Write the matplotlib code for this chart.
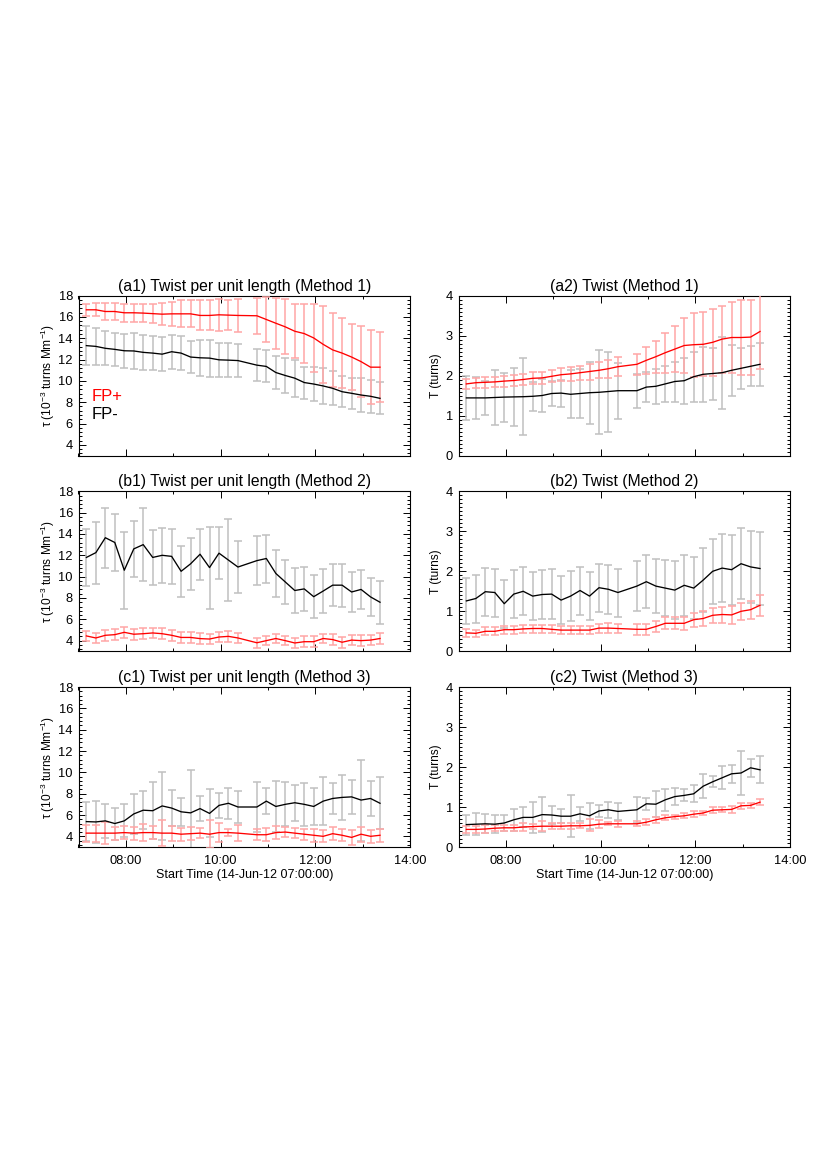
import matplotlib
matplotlib.use('Agg')
import matplotlib.pyplot as plt
from matplotlib.ticker import MultipleLocator, FixedLocator, FuncFormatter, NullFormatter

plt.rcParams['font.family'] = ['Liberation Sans', 'DejaVu Sans']
plt.rcParams['mathtext.default'] = 'regular'

# ---------------- data ----------------
times = ["07:10", "07:22", "07:34", "07:46", "07:58", "08:10", "08:22", "08:34",
         "08:46", "08:58", "09:10", "09:22", "09:34", "09:46", "09:58", "10:10",
         "10:22", "10:46", "10:58", "11:10", "11:22", "11:34", "11:46", "11:58",
         "12:10", "12:22", "12:34", "12:46", "12:58", "13:10", "13:22"]

# Method 1
tau1_pos = [16.66, 16.66, 16.5, 16.5, 16.38, 16.38, 16.35, 16.3, 16.25, 16.28, 16.28,
            16.28, 16.13, 16.13, 16.19, 16.16, 16.13, 16.1, 15.75, 15.4, 15.06, 14.65,
            14.43, 14.02, 13.42, 12.9, 12.6, 12.23, 11.8, 11.28, 11.28]
tau1_pos_err = [0.56, 0.62, 0.78, 0.8, 0.84, 0.86, 0.88, 0.92, 1.03, 1.1, 1.26, 1.26,
                1.41, 1.41, 1.5, 1.38, 1.57, 1.7, 2.1, 2.4, 2.57, 2.55, 2.8, 3.2,
                3.6, 3.45, 3.3, 3.1, 3.3, 3.45, 3.3]
tau1_neg = [13.3, 13.23, 13.05, 12.95, 12.82, 12.8, 12.67, 12.6, 12.5, 12.73, 12.6,
            12.23, 12.16, 12.13, 11.97, 11.94, 11.9, 11.47, 11.35, 10.78, 10.5, 10.25,
            9.84, 9.7, 9.52, 9.3, 8.98, 8.83, 8.67, 8.55, 8.36]
tau1_neg_err = [1.8, 1.7, 1.6, 1.57, 1.6, 1.7, 1.63, 1.6, 1.6, 1.6, 1.63, 1.5, 1.7,
                1.73, 1.6, 1.57, 1.54, 1.48, 1.5, 1.57, 1.66, 1.73, 1.5, 1.6, 1.7,
                1.6, 1.45, 1.48, 1.57, 1.54, 1.5]
T1_pos = [1.79, 1.82, 1.83, 1.84, 1.86, 1.875, 1.9, 1.93, 1.94, 1.98, 2.02, 2.04,
          2.07, 2.1, 2.13, 2.17, 2.22, 2.28, 2.38, 2.47, 2.57, 2.66, 2.75, 2.77,
          2.78, 2.83, 2.91, 2.95, 2.95, 2.96, 3.1]
T1_pos_err = [0.13, 0.13, 0.13, 0.13, 0.14, 0.14, 0.14, 0.15, 0.15, 0.15, 0.16, 0.17,
              0.18, 0.2, 0.2, 0.22, 0.24, 0.27, 0.33, 0.4, 0.5, 0.57, 0.69, 0.8,
              0.8, 0.84, 0.84, 0.88, 0.93, 0.94, 0.93]
T1_neg = [1.44, 1.44, 1.44, 1.45, 1.46, 1.465, 1.47, 1.48, 1.5, 1.55, 1.56, 1.53,
          1.55, 1.57, 1.58, 1.6, 1.62, 1.62, 1.71, 1.73, 1.79, 1.85, 1.87, 1.97,
          2.03, 2.05, 2.07, 2.13, 2.18, 2.23, 2.28]
T1_neg_err = [0.55, 0.52, 0.42, 0.68, 0.61, 0.72, 0.96, 0.37, 0.42, 0.32, 0.34, 0.6,
              0.62, 0.78, 1.05, 1.0, 0.7, 0.42, 0.38, 0.43, 0.45, 0.5, 0.58, 0.62,
              0.68, 0.65, 0.9, 0.63, 0.52, 0.5, 0.54]

# Method 2
tau2_pos = [4.44, 4.25, 4.5, 4.56, 4.78, 4.6, 4.65, 4.72, 4.65, 4.5, 4.3, 4.3, 4.19,
            4.15, 4.34, 4.4, 4.25, 3.8, 4.0, 4.2, 4.0, 3.78, 3.9, 3.9, 4.2, 4.1,
            3.85, 4.05, 4.0, 4.05, 4.2]
tau2_pos_err = [0.5, 0.45, 0.5, 0.5, 0.5, 0.5, 0.5, 0.5, 0.5, 0.5, 0.5, 0.5, 0.5, 0.5,
                0.5, 0.5, 0.5, 0.45, 0.45, 0.45, 0.45, 0.45, 0.5, 0.5, 0.45, 0.5,
                0.5, 0.45, 0.5, 0.5, 0.5]
tau2_neg = [11.8, 12.25, 13.65, 13.2, 10.6, 12.6, 13.0, 11.8, 12.0, 11.9, 10.5, 11.2,
            12.1, 10.85, 12.2, 11.55, 10.9, 11.5, 11.7, 10.3, 9.5, 8.7, 8.85, 8.12,
            8.65, 9.2, 9.2, 8.56, 8.8, 8.1, 7.6]
tau2_neg_err = [2.7, 2.9, 2.8, 2.7, 3.6, 2.65, 3.4, 2.6, 2.6, 2.55, 2.4, 2.45, 2.4,
                3.85, 2.45, 3.85, 2.4, 2.3, 2.25, 2.2, 2.1, 2.1, 2.05, 2.0, 2.05,
                1.95, 2.0, 1.9, 1.8, 1.8, 2.0]
T2_pos = [0.46, 0.45, 0.5, 0.5, 0.54, 0.54, 0.56, 0.57, 0.57, 0.55, 0.53, 0.53, 0.53,
          0.53, 0.58, 0.58, 0.57, 0.55, 0.55, 0.62, 0.7, 0.7, 0.7, 0.79, 0.82, 0.9,
          0.92, 0.91, 1.0, 1.04, 1.15]
T2_pos_err = [0.09, 0.09, 0.1, 0.1, 0.1, 0.1, 0.1, 0.1, 0.1, 0.1, 0.1, 0.1, 0.1, 0.1,
              0.11, 0.12, 0.12, 0.13, 0.13, 0.14, 0.15, 0.15, 0.16, 0.17, 0.18, 0.19,
              0.2, 0.22, 0.22, 0.23, 0.27]
T2_neg = [1.26, 1.32, 1.49, 1.47, 1.19, 1.43, 1.5, 1.38, 1.42, 1.43, 1.28, 1.38, 1.52,
          1.38, 1.59, 1.55, 1.47, 1.63, 1.74, 1.63, 1.58, 1.53, 1.65, 1.58, 1.78, 2.0,
          2.08, 2.04, 2.19, 2.11, 2.07]
T2_neg_err = [0.58, 0.6, 0.6, 0.6, 0.6, 0.6, 0.6, 0.6, 0.62, 0.62, 0.6, 0.62, 0.6,
              0.6, 0.6, 0.62, 0.6, 0.62, 0.66, 0.68, 0.7, 0.73, 0.76, 0.77, 0.8, 0.82,
              0.85, 0.87, 0.89, 0.91, 0.92]

# Method 3
tau3_pos = [4.3, 4.3, 4.3, 4.3, 4.35, 4.3, 4.35, 4.35, 4.3, 4.3, 4.2, 4.25, 4.3, 4.2,
            4.35, 4.35, 4.3, 4.15, 4.15, 4.35, 4.4, 4.3, 4.2, 4.1, 4.0, 4.25, 4.1,
            3.9, 4.2, 4.0, 4.1]
tau3_pos_err = [0.8, 0.8, 1.05, 0.6, 0.6, 0.6, 0.8, 0.6, 1.2, 0.7, 0.6, 0.6, 0.5, 1.3,
                0.9, 0.35, 0.75, 0.5, 0.6, 0.6, 0.5, 0.45, 0.5, 0.6, 0.55, 0.6, 0.55,
                0.7, 0.7, 0.6, 0.6]
tau3_neg = [5.38, 5.35, 5.45, 5.2, 5.45, 6.1, 6.45, 6.4, 6.85, 6.65, 6.3, 6.2, 6.6,
            6.15, 6.9, 7.1, 6.75, 6.75, 7.3, 6.8, 7.0, 7.15, 7.0, 6.8, 7.3, 7.55,
            7.65, 7.7, 7.4, 7.55, 7.1]
tau3_neg_err = [1.8, 2.0, 1.6, 1.5, 1.55, 1.9, 1.8, 2.65, 3.2, 1.65, 1.3, 4.0, 1.2,
                2.25, 1.2, 1.45, 1.5, 2.3, 1.2, 2.4, 2.05, 1.7, 2.0, 1.7, 2.25, 1.45,
                2.1, 1.6, 3.8, 1.65, 2.45]
T3_pos = [0.44, 0.44, 0.45, 0.47, 0.48, 0.48, 0.5, 0.51, 0.52, 0.52, 0.52, 0.53, 0.53,
          0.54, 0.57, 0.58, 0.58, 0.58, 0.62, 0.68, 0.73, 0.76, 0.78, 0.82, 0.85,
          0.92, 0.93, 0.94, 1.03, 1.04, 1.12]
T3_pos_err = [0.09, 0.09, 0.11, 0.07, 0.07, 0.07, 0.09, 0.07, 0.13, 0.08, 0.07, 0.07,
              0.06, 0.15, 0.1, 0.04, 0.08, 0.06, 0.07, 0.07, 0.06, 0.05, 0.06, 0.07,
              0.06, 0.07, 0.06, 0.08, 0.08, 0.07, 0.07]
T3_neg = [0.56, 0.57, 0.58, 0.57, 0.6, 0.68, 0.74, 0.74, 0.81, 0.8, 0.77, 0.77, 0.83,
          0.78, 0.9, 0.93, 0.89, 0.93, 1.08, 1.07, 1.18, 1.26, 1.29, 1.33, 1.52, 1.63,
          1.73, 1.83, 1.85, 1.98, 1.93]
T3_neg_err = [0.25, 0.28, 0.24, 0.22, 0.2, 0.28, 0.25, 0.38, 0.44, 0.22, 0.17, 0.53,
              0.17, 0.32, 0.15, 0.2, 0.21, 0.32, 0.15, 0.32, 0.28, 0.21, 0.15, 0.21,
              0.3, 0.14, 0.29, 0.22, 0.54, 0.22, 0.34]

titles = ["(a1) Twist per unit length (Method 1)", "(a2) Twist (Method 1)",
          "(b1) Twist per unit length (Method 2)", "(b2) Twist (Method 2)",
          "(c1) Twist per unit length (Method 3)", "(c2) Twist (Method 3)"]
tau_label = "\u03c4 (10$^{-3}$ turns Mm$^{-1}$)"
T_label = "T (turns)"
xlabel = "Start Time (14-Jun-12 07:00:00)"
legend_labels = ["FP+", "FP-"]

# ---------------- plotting ----------------
hours = [int(t[:2]) + int(t[3:]) / 60.0 for t in times]

W, H = 830, 1175
fig = plt.figure(figsize=(W / 100, H / 100), dpi=100)

col_x = [78.5, 458.5]
ax_w = 331.5
row_top = [295.5, 491.3, 687.0]
ax_h = 160.0

panel_data = [
    (tau1_pos, tau1_pos_err, tau1_neg, tau1_neg_err),
    (T1_pos, T1_pos_err, T1_neg, T1_neg_err),
    (tau2_pos, tau2_pos_err, tau2_neg, tau2_neg_err),
    (T2_pos, T2_pos_err, T2_neg, T2_neg_err),
    (tau3_pos, tau3_pos_err, tau3_neg, tau3_neg_err),
    (T3_pos, T3_pos_err, T3_neg, T3_neg_err),
]

pink = '#ffa6a6'
gray = '#c0c0c0'

axes = []
for i in range(6):
    r, c = divmod(i, 2)
    left = col_x[c] / W
    bottom = 1 - (row_top[r] + ax_h) / H
    ax = fig.add_axes([left, bottom, ax_w / W, ax_h / H])
    axes.append(ax)
    pos, pos_err, neg, neg_err = panel_data[i]

    ax.errorbar(hours, neg, yerr=neg_err, fmt='none', ecolor=gray,
                elinewidth=1.1, capsize=2.6, capthick=1.1, zorder=2)
    ax.errorbar(hours, pos, yerr=pos_err, fmt='none', ecolor=pink,
                elinewidth=1.1, capsize=2.6, capthick=1.1, zorder=3)
    ax.plot(hours, neg, color='black', lw=0.95, zorder=4)
    ax.plot(hours, pos, color='red', lw=0.95, zorder=5)

    ax.set_xlim(7, 14)
    ax.xaxis.set_major_locator(FixedLocator([8, 10, 12, 14]))
    ax.xaxis.set_minor_locator(FixedLocator([7, 9, 11, 13]))
    if r == 2:
        ax.xaxis.set_major_formatter(FuncFormatter(lambda v, p: "%02d:00" % int(round(v))))
        ax.set_xlabel(xlabel, fontsize=9, labelpad=1)
    else:
        ax.xaxis.set_major_formatter(NullFormatter())

    if c == 0:
        ax.set_ylim(3, 18)
        ax.yaxis.set_major_locator(MultipleLocator(2))
        ax.yaxis.set_minor_locator(MultipleLocator(0.4))
        ax.set_ylabel(tau_label, fontsize=8.6, labelpad=1)
    else:
        ax.set_ylim(0, 4)
        ax.yaxis.set_major_locator(MultipleLocator(1))
        ax.yaxis.set_minor_locator(MultipleLocator(0.1))
        ax.set_ylabel(T_label, fontsize=8.6, labelpad=2.5)

    ax.tick_params(which='both', direction='in', top=True, right=True,
                   labelsize=9.3, width=0.7)
    ax.tick_params(which='major', length=5, pad=4)
    ax.tick_params(which='minor', length=2.5)
    ax.tick_params(axis='x', which='major', pad=6)
    for s in ax.spines.values():
        s.set_linewidth(0.8)
    ax.set_title(titles[i], fontsize=11.3, pad=3.5)

axes[0].text(7.28, 8.5, legend_labels[0], color='red', fontsize=12,
             ha='left', va='center')
axes[0].text(7.28, 6.8, legend_labels[1], color='black', fontsize=12,
             ha='left', va='center')

fig.savefig('out.png', dpi=100)
